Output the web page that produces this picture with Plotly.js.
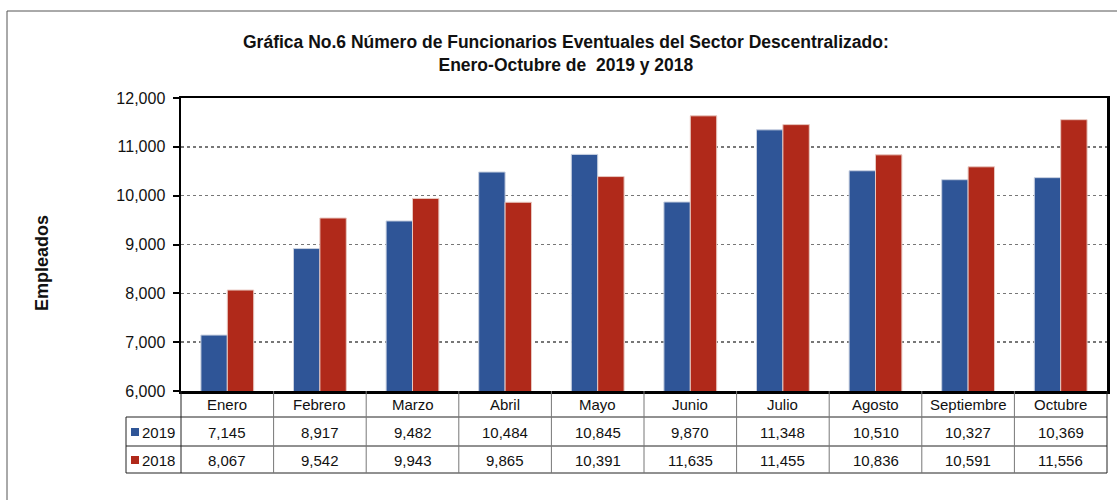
<!DOCTYPE html>
<html>
<head>
<meta charset="utf-8">
<script src="https://cdn.plot.ly/plotly-3.0.1.min.js"></script>
<style>html,body{margin:0;padding:0;background:#fff;}#chart{width:1117px;height:500px;}</style>
</head>
<body>
<div id="chart"></div>
<script>
const months = ["Enero","Febrero","Marzo","Abril","Mayo","Junio","Julio","Agosto","Septiembre","Octubre"];
const values2019 = [7145, 8917, 9482, 10484, 10845, 9870, 11348, 10510, 10327, 10369];
const values2018 = [8067, 9542, 9943, 9865, 10391, 11635, 11455, 10836, 10591, 11556];
const seriesNames = ["2019", "2018"];
const yTickVals = [6000, 7000, 8000, 9000, 10000, 11000, 12000];

const colors = ["#2F5597", "#B0291A"];
const L = 181, R = 1107, T = 98, B = 391, W = R - L, H = B - T;
const px = x => (x - L) / W;
const py = y => (B - y) / H;
const fmt = v => v.toLocaleString("en-US");

const traces = [
  {type: "bar", name: seriesNames[0], x: months.map((m,i)=>i), y: values2019,
   marker: {color: colors[0], line: {color: "#c8d0e0", width: 1}}, hoverinfo: "none"},
  {type: "bar", name: seriesNames[1], x: months.map((m,i)=>i), y: values2018,
   marker: {color: colors[1], line: {color: "#e8c8c0", width: 1}}, hoverinfo: "none"}
];

const shapes = [];
const annotations = [];
const tableFont = {family: "Liberation Sans, Arial", size: 15, color: "#111"};
const hLine = {color: "#222", width: 1};
const vLine = {color: "#777", width: 1};

// outer frame
shapes.push({type: "rect", xref: "paper", yref: "paper", x0: px(7), x1: px(1130), y0: py(11), y1: py(520),
  line: {color: "#555", width: 1}, layer: "below"});

// table horizontal lines
[417, 446, 473].forEach(yy => {
  shapes.push({type: "line", xref: "paper", yref: "paper", x0: px(126), x1: px(1107), y0: py(yy), y1: py(yy), line: hLine});
});
// table vertical lines
for (let i = 0; i <= months.length; i++) {
  shapes.push({type: "line", xref: "paper", yref: "paper", x0: i / months.length, x1: i / months.length,
    y0: py(391), y1: py(473), line: (i === 0 || i === months.length) ? hLine : vLine});
}
shapes.push({type: "line", xref: "paper", yref: "paper", x0: px(126), x1: px(126), y0: py(417), y1: py(473), line: hLine});

// header labels and values
months.forEach((m, i) => {
  const xc = (i + 0.5) / months.length;
  annotations.push({xref: "paper", yref: "paper", x: xc, y: py(404), xanchor: "center", yanchor: "middle",
    text: m, showarrow: false, font: tableFont});
  annotations.push({xref: "paper", yref: "paper", x: xc, y: py(432), xanchor: "center", yanchor: "middle",
    text: fmt(values2019[i]), showarrow: false, font: tableFont});
  annotations.push({xref: "paper", yref: "paper", x: xc, y: py(460), xanchor: "center", yanchor: "middle",
    text: fmt(values2018[i]), showarrow: false, font: tableFont});
});
// legend keys in table
[[432, 0], [460, 1]].forEach(([yc, k]) => {
  shapes.push({type: "rect", xref: "paper", yref: "paper", x0: px(131), x1: px(139), y0: py(yc - 4), y1: py(yc + 4),
    fillcolor: colors[k], line: {width: 0}});
  annotations.push({xref: "paper", yref: "paper", x: px(140), y: py(yc), xanchor: "left", yanchor: "middle",
    text: seriesNames[k], showarrow: false, font: tableFont});
});

// title
annotations.push({xref: "paper", yref: "paper", x: px(566), y: py(54), xanchor: "center", yanchor: "middle",
  text: "<b>Gráfica No.6 Número de Funcionarios Eventuales del Sector Descentralizado:</b><br><b>Enero-Octubre de  2019 y 2018</b>",
  showarrow: false, font: {family: "Liberation Sans, Arial", size: 17.5, color: "#111"}});
// y title
annotations.push({xref: "paper", yref: "paper", x: px(42), y: py(263), xanchor: "center", yanchor: "middle", textangle: -90,
  text: "<b>Empleados</b>", showarrow: false, font: {family: "Liberation Sans, Arial", size: 18, color: "#111"}});

const layout = {
  width: 1117, height: 500,
  margin: {l: L, r: 1117 - R, t: T, b: 500 - B, pad: 0},
  paper_bgcolor: "#fff", plot_bgcolor: "#fff",
  showlegend: false,
  barmode: "group", bargap: 0.43, bargroupgap: 0,
  xaxis: {range: [-0.5, months.length - 0.5], showticklabels: false, showgrid: false, zeroline: false,
    showline: true, linecolor: "#000", linewidth: 2.5, mirror: true, ticks: "", fixedrange: true},
  yaxis: {range: [6000, 12000], tickvals: yTickVals, ticktext: yTickVals.map(fmt),
    showgrid: true, gridcolor: "#777", griddash: "dot", gridwidth: 1.5, zeroline: false,
    showline: true, linecolor: "#000", linewidth: 2.5, mirror: true,
    ticks: "outside", ticklen: 6, tickwidth: 2, tickcolor: "#000", ticklabelstandoff: 4,
    tickfont: {family: "Liberation Sans, Arial", size: 16, color: "#111"}, fixedrange: true},
  shapes: shapes,
  annotations: annotations
};

Plotly.newPlot("chart", traces, layout, {displayModeBar: false, staticPlot: true});
</script>
</body>
</html>
